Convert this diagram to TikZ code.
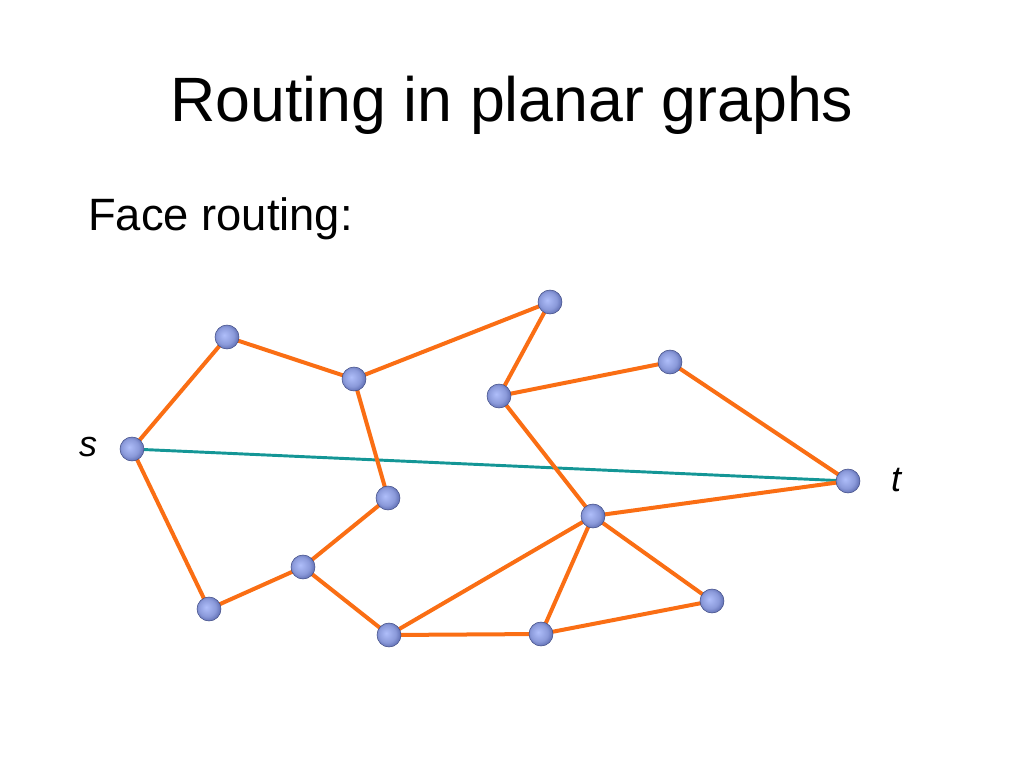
\documentclass[tikz,border=0pt]{standalone}
\usepackage{fontspec}
\setmainfont{Liberation Sans}
\definecolor{edgeorange}{RGB}{250,110,20}
\definecolor{lineteal}{RGB}{20,150,150}
\definecolor{vertexlight}{RGB}{175,190,250}
\definecolor{vertexdark}{RGB}{85,100,170}
\pgfdeclareradialshading{vertexball}{\pgfpoint{-6bp}{4bp}}{%
  color(0bp)=(vertexlight);
  color(18bp)=(vertexlight!60!vertexdark);
  color(30bp)=(vertexdark);
  color(50bp)=(vertexdark)}
\tikzset{
  vertex/.style={circle, minimum size=18pt, inner sep=0pt, draw=vertexdark!80!black, line width=0.4pt, shading=vertexball},
  face/.style={edgeorange, line width=3pt},
  direct/.style={lineteal, line width=2.2pt}
}
\begin{document}
\begin{tikzpicture}[x=0.75pt, y=-0.75pt]
  \useasboundingbox (0,0) rectangle (1024,768);
  % Title and subtitle
  \node[inner sep=0pt, anchor=base] (title) at (512,121) {\fontsize{47}{54}\selectfont Routing in planar graphs};
  \node[inner sep=0pt, anchor=base west] (sub) at (88,230) {\fontsize{34}{40}\selectfont Face routing:};
  % Vertices
  \foreach \name/\x/\y in {s/132/449, a/227/337, b/354/379, c/550/302, d/499/396,
                           e/670/362, t/848/481, f/388/498, g/303/567, h/209/609,
                           i/389/635, j/541/634, k/593/516, l/712/601}
    \coordinate (p\name) at (\x,\y);
  % Edges
  \draw[direct] (ps) -- (pt);
  \foreach \u/\v in {s/a, a/b, b/c, c/d, d/e, e/t, b/f, f/g, g/h, h/s,
                     g/i, i/j, i/k, j/k, k/l, l/j, k/t, d/k}
    \draw[face] (p\u) -- (p\v);
  \foreach \name in {s,a,b,c,d,e,t,f,g,h,i,j,k,l}
    \node[vertex] (\name) at (p\name) {};
  % Labels
  \node (slabel) at (88,447) {\fontsize{27}{30}\selectfont\itshape s};
  \node (tlabel) at (896,480) {\fontsize{27}{30}\selectfont\itshape t};
\end{tikzpicture}
\end{document}
